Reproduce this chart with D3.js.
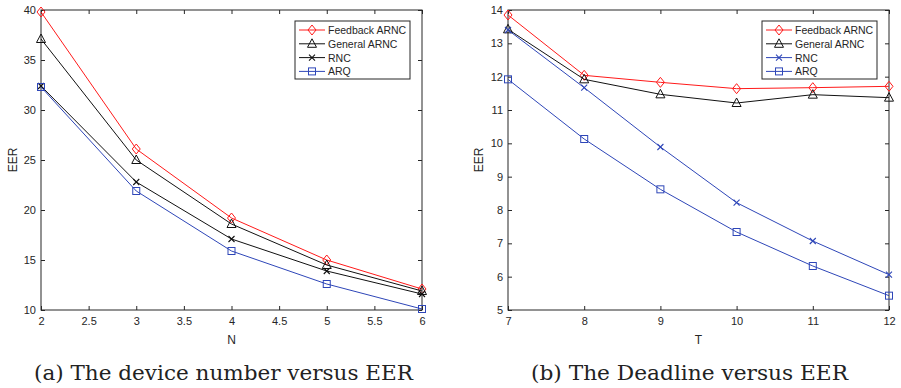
<!DOCTYPE html>
<html>
<head>
<meta charset="utf-8">
<script src="https://cdn.jsdelivr.net/npm/d3@7"></script>
<style>
  body { margin: 0; background: #fff; }
  svg { display: block; }
  .tick text { font-family: "Liberation Sans", Arial, sans-serif; font-size: 11px; fill: #262626; }
  .label { font-family: "Liberation Sans", Arial, sans-serif; font-size: 12px; fill: #262626; }
  .caption { font-family: "DejaVu Serif", "Liberation Serif", serif; font-size: 20px; fill: #222; }
  .legend text { font-family: "Liberation Sans", Arial, sans-serif; font-size: 10.5px; fill: #262626; }
</style>
</head>
<body>
<svg id="chart" width="901" height="388"></svg>
<script>
// panel (a): EER against device number N
const nValues = [2, 3, 4, 5, 6];
const feedbackA = [39.8, 26.1, 19.2, 15.0, 12.1];
const generalA  = [37.1, 25.0, 18.6, 14.5, 11.9];
const rncA      = [32.4, 22.8, 17.1, 13.9, 11.6];
const arqA      = [32.3, 21.9, 15.9, 12.6, 10.1];
const nTicks = [2, 2.5, 3, 3.5, 4, 4.5, 5, 5.5, 6];
const eerTicksA = [10, 15, 20, 25, 30, 35, 40];

// panel (b): EER against deadline T
const tValues = [7, 8, 9, 10, 11, 12];
const feedbackB = [13.85, 12.04, 11.83, 11.64, 11.67, 11.71];
const generalB  = [13.42, 11.92, 11.47, 11.21, 11.46, 11.37];
const rncB      = [13.40, 11.67, 9.89, 8.22, 7.07, 6.06];
const arqB      = [11.92, 10.13, 8.62, 7.34, 6.32, 5.43];
const tTicks = [7, 8, 9, 10, 11, 12];
const eerTicksB = [5, 6, 7, 8, 9, 10, 11, 12, 13, 14];

const seriesNames = ['Feedback ARNC', 'General ARNC', 'RNC', 'ARQ'];
const markers = ['diamond', 'triangle', 'cross', 'square'];

const RED = '#ff1a1a', BLACK = '#111', BLUE = '#2e46b8', AXIS = '#262626';

const svg = d3.select('#chart');

function drawMarker(g, type, x, y, color) {
  if (type === 'diamond') {
    g.append('path').attr('d', `M${x},${y - 5}L${x + 4},${y}L${x},${y + 5}L${x - 4},${y}Z`)
      .attr('fill', 'none').attr('stroke', color).attr('stroke-width', 1);
  } else if (type === 'triangle') {
    g.append('path').attr('d', `M${x},${y - 5}L${x + 4.5},${y + 3.5}L${x - 4.5},${y + 3.5}Z`)
      .attr('fill', 'none').attr('stroke', color).attr('stroke-width', 1);
  } else if (type === 'cross') {
    g.append('path').attr('d', `M${x - 3},${y - 3}L${x + 3},${y + 3}M${x - 3},${y + 3}L${x + 3},${y - 3}`)
      .attr('stroke', color).attr('stroke-width', 1.1);
  } else {
    g.append('rect').attr('x', x - 3.5).attr('y', y - 3.5).attr('width', 7).attr('height', 7)
      .attr('fill', 'none').attr('stroke', color).attr('stroke-width', 1);
  }
}

function panel(opts) {
  const { left, right, top, bottom, xDomain, yDomain, xTicks, yTicks, xs, series, colors,
          xLabel, yLabelX, caption, captionX, captionW, legendX } = opts;
  const g = svg.append('g');

  const x = d3.scaleLinear().domain(xDomain).range([left, right]);
  const y = d3.scaleLinear().domain(yDomain).range([bottom, top]);

  // axes, ticks inward on all four sides
  g.append('g').attr('transform', `translate(0,${bottom})`)
    .call(d3.axisBottom(x).tickValues(xTicks).tickSize(-4).tickPadding(7).tickFormat(d3.format('')))
    .call(a => a.select('.domain').remove());
  g.append('g').attr('transform', `translate(0,${top})`)
    .call(d3.axisTop(x).tickValues(xTicks).tickSize(-4).tickFormat(''))
    .call(a => a.select('.domain').remove());
  g.append('g').attr('transform', `translate(${left},0)`)
    .call(d3.axisLeft(y).tickValues(yTicks).tickSize(-4).tickPadding(5))
    .call(a => a.select('.domain').remove());
  g.append('g').attr('transform', `translate(${right},0)`)
    .call(d3.axisRight(y).tickValues(yTicks).tickSize(-4).tickFormat(''))
    .call(a => a.select('.domain').remove());
  g.selectAll('.tick line').attr('stroke', AXIS);

  g.append('rect').attr('x', left).attr('y', top)
    .attr('width', right - left).attr('height', bottom - top)
    .attr('fill', 'none').attr('stroke', AXIS).attr('stroke-width', 1);

  const line = d3.line().x((d, i) => x(xs[i])).y(d => y(d));

  series.forEach((vals, s) => {
    g.append('path').datum(vals).attr('d', line)
      .attr('fill', 'none').attr('stroke', colors[s]).attr('stroke-width', 1);
    vals.forEach((v, i) => drawMarker(g, markers[s], x(xs[i]), y(v), colors[s]));
  });

  // labels
  g.append('text').attr('class', 'label').attr('x', (left + right) / 2).attr('y', bottom + 34)
    .attr('text-anchor', 'middle').text(xLabel);
  g.append('text').attr('class', 'label')
    .attr('transform', `translate(${yLabelX},${(top + bottom) / 2}) rotate(-90)`)
    .attr('text-anchor', 'middle').text('EER');
  g.append('text').attr('class', 'caption').attr('x', captionX).attr('y', 380)
    .attr('textLength', captionW).attr('lengthAdjust', 'spacingAndGlyphs').text(caption);

  // legend
  const lg = g.append('g').attr('class', 'legend');
  lg.append('rect').attr('x', legendX).attr('y', 21).attr('width', 115).attr('height', 58)
    .attr('fill', '#fff').attr('stroke', AXIS).attr('stroke-width', 1);
  seriesNames.forEach((name, s) => {
    const ly = 30 + s * 13.8;
    lg.append('line').attr('x1', legendX + 4).attr('x2', legendX + 30).attr('y1', ly).attr('y2', ly)
      .attr('stroke', colors[s]).attr('stroke-width', 1);
    drawMarker(lg, markers[s], legendX + 17, ly, colors[s]);
    lg.append('text').attr('x', legendX + 33).attr('y', ly + 4).text(name);
  });
}

panel({
  left: 41, right: 422, top: 10, bottom: 310,
  xDomain: [2, 6], yDomain: [10, 40], xTicks: nTicks, yTicks: eerTicksA,
  xs: nValues, series: [feedbackA, generalA, rncA, arqA],
  colors: [RED, BLACK, BLACK, BLUE],
  xLabel: 'N', yLabelX: 17, caption: '(a) The device number versus EER',
  captionX: 34, captionW: 379, legendX: 295
});

panel({
  left: 508, right: 889, top: 10, bottom: 310,
  xDomain: [7, 12], yDomain: [5, 14], xTicks: tTicks, yTicks: eerTicksB,
  xs: tValues, series: [feedbackB, generalB, rncB, arqB],
  colors: [RED, BLACK, BLUE, BLUE],
  xLabel: 'T', yLabelX: 483, caption: '(b) The Deadline versus EER',
  captionX: 531, captionW: 317, legendX: 762
});
</script>
</body>
</html>
